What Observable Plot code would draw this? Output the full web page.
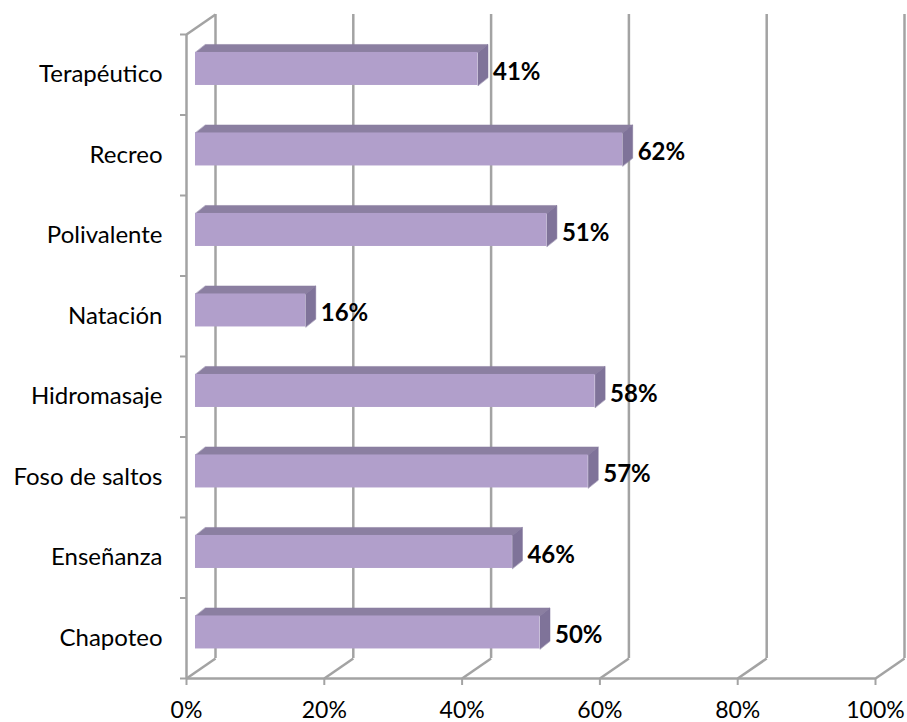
<!DOCTYPE html>
<html>
<head>
<meta charset="utf-8">
<script src="https://cdn.jsdelivr.net/npm/d3@7"></script>
<script src="https://cdn.jsdelivr.net/npm/@observablehq/plot@0.6"></script>
<style>
  html, body { margin: 0; padding: 0; background: #fff; }
  #chart { width: 907px; height: 722px; }
</style>
</head>
<body>
<div id="chart"></div>
<script>
// Categories from bottom to top
const categories = ["Chapoteo", "Enseñanza", "Foso de saltos", "Hidromasaje", "Natación", "Polivalente", "Recreo", "Terapéutico"];
const values = [50, 46, 57, 58, 16, 51, 62, 41];
const xTicks = [0, 20, 40, 60, 80, 100];

const W = 907, H = 722;
const mL = 186, mR = 32, mT = 34, mB = 44;
const kx = 100 / (W - mL - mR);          // data units per px (x)
const ky = categories.length / (H - mT - mB); // data units per px (y)

// wall depth (back wall offset)
const WX = 29 * kx, WY = 20 * ky;
// bar depth (top/side faces)
const BX = 10 * kx, BY = 8 * ky;
const b0 = 0.28, b1 = 0.69;

const bars = categories.map((c, i) => ({ cat: c, i, v: values[i] }));
const topFaces = bars.flatMap(d => [
  [0, d.i + b1], [d.v, d.i + b1], [d.v + BX, d.i + b1 + BY], [BX, d.i + b1 + BY]
].map(([x, y]) => ({ key: d.cat, x, y })));
const sideFaces = bars.flatMap(d => [
  [d.v, d.i + b0], [d.v, d.i + b1], [d.v + BX, d.i + b1 + BY], [d.v + BX, d.i + b0 + BY]
].map(([x, y]) => ({ key: d.cat, x, y })));

const grid = "#a3a3a3";
const font = "Lato, 'Open Sans', sans-serif";

const chart = Plot.plot({
  width: W,
  height: H,
  marginLeft: mL,
  marginRight: mR,
  marginTop: mT,
  marginBottom: mB,
  style: { fontFamily: font, background: "#fff", overflow: "visible" },
  x: { domain: [0, 100], label: null },
  y: { domain: [0, categories.length], label: null },
  marks: [
    // back wall gridlines
    Plot.ruleX(xTicks, { x: d => d + WX, y1: WY, y2: categories.length + WY, stroke: grid, strokeWidth: 2.5 }),
    // floor diagonals
    Plot.link(xTicks, { x1: d => d, y1: 0, x2: d => d + WX, y2: WY, stroke: grid, strokeWidth: 2.5 }),
    // top-left diagonal
    Plot.link([0], { x1: 0, y1: categories.length, x2: WX, y2: categories.length + WY, stroke: grid, strokeWidth: 2.5 }),
    // front floor line
    Plot.ruleY([0], { x1: 0, x2: 100, stroke: grid, strokeWidth: 2.5 }),
    // front left axis line
    Plot.ruleX([0], { y1: 0, y2: categories.length, stroke: grid, strokeWidth: 2.5 }),
    // y category boundary ticks
    Plot.axisY(d3.range(categories.length + 1), { tickSize: 6, tickFormat: () => "", stroke: grid, strokeWidth: 2, label: null }),
    // y category labels
    Plot.axisY(d3.range(categories.length).map(i => i + 0.5), {
      tickSize: 0, tickPadding: 24, tickFormat: d => categories[Math.floor(d)],
      fontSize: 24, fill: "#000", label: null
    }),
    // x axis ticks and labels
    Plot.axisX(xTicks, { tickSize: 7, tickPadding: 16, tickFormat: d => d + "%", fontSize: 23, stroke: grid, strokeWidth: 2, fill: "#000", label: null }),
    // bars: top faces
    Plot.line(topFaces, { x: "x", y: "y", z: "key", fill: "#8b7fa1", stroke: "#8b7fa1", strokeWidth: 0.5, curve: "linear-closed", dx: 9, dy: -7 }),
    // bars: side faces
    Plot.line(sideFaces, { x: "x", y: "y", z: "key", fill: "#7f7399", stroke: "#7f7399", strokeWidth: 0.5, curve: "linear-closed", dx: 9, dy: -7 }),
    // bars: front faces
    Plot.rect(bars, { x1: 0, x2: "v", y1: d => d.i + b0, y2: d => d.i + b1, fill: "#b19fcb", dx: 9, dy: -7 }),
    // value labels
    Plot.text(bars, {
      x: d => d.v + BX, y: d => d.i + (b0 + b1) / 2 + BY / 2,
      text: d => d.v + "%", textAnchor: "start", dx: 14, dy: 0,
      fontSize: 24, fontWeight: "bold", fill: "#000"
    })
  ]
});
document.getElementById("chart").appendChild(chart);
</script>
</body>
</html>
